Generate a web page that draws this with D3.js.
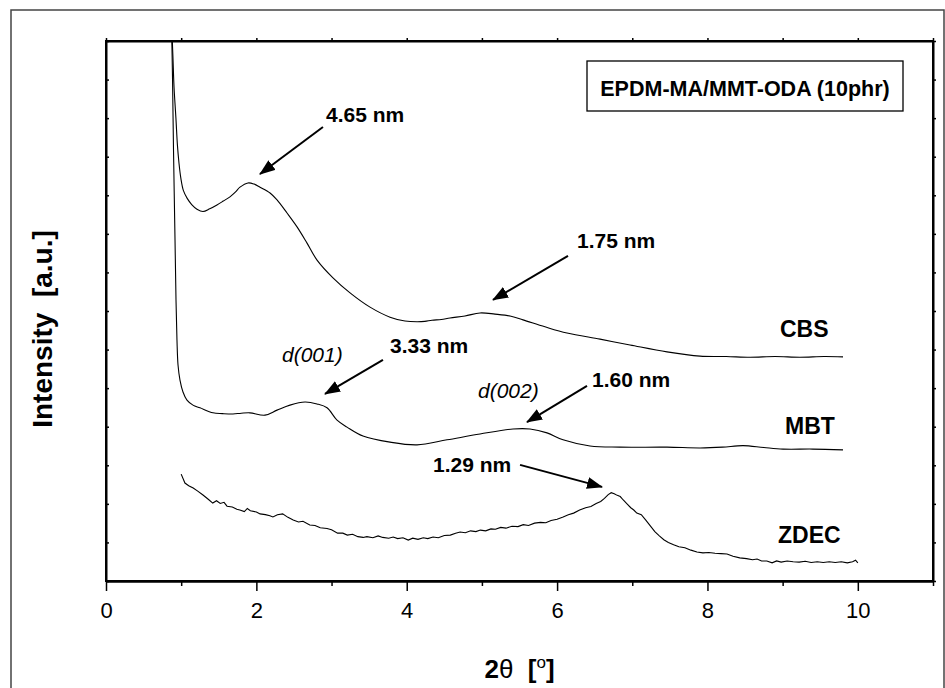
<!DOCTYPE html>
<html>
<head>
<meta charset="utf-8">
<script src="https://cdn.jsdelivr.net/npm/d3@7"></script>
<style>
  body { margin: 0; background: #fff; }
  text { font-family: "Liberation Sans", Arial, sans-serif; fill: #000; }
</style>
</head>
<body>
<svg id="chart" width="945" height="688"></svg>
<script>
// 2theta (deg) vs intensity (a.u., stacked)
const cbs = [[0.87,14.6],[0.89,13.6],[0.905,12.8],[0.93,12.0],[0.95,11.3],[0.97,10.85],[0.995,10.45],[1.03,10.12],[1.08,9.92],[1.14,9.76],[1.21,9.64],[1.29,9.58],[1.38,9.65],[1.476,9.75],[1.56,9.85],[1.649,9.96],[1.72,10.08],[1.782,10.21],[1.889,10.32],[1.97,10.29],[2.049,10.21],[2.182,10.06],[2.275,9.88],[2.408,9.54],[2.541,9.18],[2.674,8.76],[2.807,8.32],[3.019,7.86],[3.246,7.47],[3.512,7.10],[3.778,6.84],[3.977,6.74],[4.137,6.72],[4.24,6.73],[4.336,6.76],[4.46,6.78],[4.576,6.82],[4.775,6.87],[4.975,6.95],[5.174,6.92],[5.374,6.87],[5.547,6.77],[5.839,6.59],[6.132,6.43],[6.571,6.27],[6.970,6.12],[7.462,5.94],[7.901,5.83],[8.25,5.82],[8.566,5.80],[8.9,5.82],[9.231,5.80],[9.55,5.82],[9.803,5.81]];

const mbt = [[0.87,14.6],[0.885,13.0],[0.898,11.17],[0.918,8.84],[0.931,7.29],[0.944,6.25],[0.958,5.60],[0.984,5.21],[1.024,4.90],[1.077,4.69],[1.157,4.56],[1.250,4.49],[1.423,4.36],[1.55,4.34],[1.689,4.33],[1.80,4.35],[1.915,4.36],[2.115,4.30],[2.275,4.43],[2.447,4.56],[2.647,4.64],[2.807,4.59],[2.940,4.49],[3.073,4.17],[3.206,3.99],[3.418,3.76],[3.778,3.60],[4.137,3.53],[4.536,3.66],[4.975,3.81],[5.414,3.94],[5.640,3.94],[5.866,3.84],[6.079,3.66],[6.438,3.50],[6.837,3.47],[7.462,3.47],[7.901,3.45],[8.20,3.47],[8.473,3.51],[8.75,3.46],[9.005,3.42],[9.40,3.42],[9.803,3.40]];

const zdec = [[1.00,2.77],[1.05,2.54],[1.10,2.47],[1.16,2.41],[1.22,2.33],[1.29,2.23],[1.36,2.12],[1.42,2.02],[1.47,2.08],[1.52,2.01],[1.57,2.04],[1.61,1.94],[1.68,1.92],[1.74,1.86],[1.78,1.84],[1.84,1.80],[1.88,1.88],[1.92,1.82],[2.00,1.79],[2.05,1.74],[2.12,1.72],[2.18,1.69],[2.22,1.66],[2.28,1.72],[2.35,1.74],[2.42,1.65],[2.49,1.58],[2.56,1.53],[2.62,1.55],[2.71,1.45],[2.78,1.44],[2.85,1.38],[2.94,1.36],[3.00,1.33],[3.08,1.24],[3.15,1.24],[3.21,1.19],[3.28,1.21],[3.35,1.15],[3.42,1.13],[3.47,1.15],[3.55,1.12],[3.62,1.17],[3.68,1.13],[3.76,1.11],[3.82,1.14],[3.88,1.10],[3.95,1.12],[4.02,1.06],[4.08,1.11],[4.15,1.08],[4.22,1.12],[4.28,1.10],[4.35,1.14],[4.42,1.12],[4.50,1.18],[4.58,1.19],[4.65,1.24],[4.71,1.27],[4.78,1.25],[4.85,1.30],[4.92,1.28],[4.98,1.32],[5.05,1.30],[5.12,1.35],[5.18,1.34],[5.25,1.39],[5.32,1.37],[5.40,1.42],[5.48,1.41],[5.55,1.46],[5.62,1.44],[5.70,1.50],[5.78,1.52],[5.85,1.51],[5.92,1.57],[6.00,1.60],[6.08,1.66],[6.15,1.72],[6.22,1.76],[6.30,1.84],[6.38,1.90],[6.45,1.93],[6.52,2.01],[6.58,2.06],[6.63,2.14],[6.68,2.24],[6.72,2.29],[6.76,2.26],[6.80,2.22],[6.84,2.19],[6.88,2.10],[6.93,2.00],[6.98,1.90],[7.02,1.84],[7.06,1.76],[7.12,1.72],[7.18,1.58],[7.24,1.43],[7.30,1.28],[7.36,1.17],[7.42,1.07],[7.48,1.00],[7.55,0.94],[7.62,0.89],[7.70,0.86],[7.78,0.80],[7.86,0.75],[7.94,0.73],[8.02,0.74],[8.10,0.72],[8.18,0.71],[8.26,0.70],[8.34,0.64],[8.43,0.60],[8.52,0.58],[8.60,0.55],[8.66,0.57],[8.72,0.52],[8.79,0.52],[8.86,0.47],[8.92,0.52],[8.98,0.49],[9.06,0.52],[9.14,0.50],[9.22,0.49],[9.30,0.51],[9.38,0.48],[9.46,0.50],[9.54,0.48],[9.62,0.50],[9.70,0.48],[9.78,0.50],[9.86,0.47],[9.93,0.50],[9.97,0.54],[10.0,0.47]];

const xTicks = [0, 2, 4, 6, 8, 10];
const seriesNames = [
  { name: "CBS", x: 8.965, y: 6.33 },
  { name: "MBT", x: 9.032, y: 3.81 },
  { name: "ZDEC", x: 8.939, y: 0.99 }
];
// arrows: tail -> tip, label position
const notes = [
  { label: "4.65 nm", tx: 2.926, ty: 11.90, x1: 2.886, y1: 11.77, x2: 2.048, y2: 10.55 },
  { label: "1.75 nm", tx: 6.265, ty: 8.63, x1: 6.145, y1: 8.43, x2: 5.148, y2: 7.29 },
  { label: "3.33 nm", tx: 3.778, ty: 5.91, x1: 3.684, y1: 5.73, x2: 2.913, y2: 4.85 },
  { label: "1.60 nm", tx: 6.464, ty: 5.03, x1: 6.398, y1: 5.06, x2: 5.600, y2: 4.12 },
  { label: "1.29 nm", tx: 4.350, ty: 2.83, x1: 5.507, y1: 3.01, x2: 6.598, y2: 2.44 }
];
const reflections = [
  { label: "d(001)", x: 2.341, y: 5.68 },
  { label: "d(002)", x: 4.948, y: 4.74 }
];

var svg = d3.select("#chart");
const pLeft = 106, pRight = 933, pTop = 41, pBottom = 581;

const x = d3.scaleLinear().domain([0, 11]).range([pLeft, pRight]);
const y = d3.scaleLinear().domain([0, 14]).range([pBottom, pTop]);

// outer frame
svg.append("rect")
  .attr("x", 11).attr("y", 10)
  .attr("width", 933).attr("height", 700)
  .attr("fill", "none").attr("stroke", "#444").attr("stroke-width", 1.5);

const defs = svg.append("defs");
defs.append("clipPath").attr("id", "plotClip")
  .append("rect").attr("x", pLeft).attr("y", pTop)
  .attr("width", pRight - pLeft).attr("height", pBottom - pTop);

defs.append("marker")
  .attr("id", "head")
  .attr("markerUnits", "userSpaceOnUse")
  .attr("viewBox", "0 0 16 12")
  .attr("refX", 15).attr("refY", 6)
  .attr("markerWidth", 16).attr("markerHeight", 12)
  .attr("orient", "auto")
  .append("path").attr("d", "M0,0L16,6L0,12Z").attr("fill", "#000");

// axes
const gx = svg.append("g").attr("transform", `translate(0,${pBottom})`)
  .call(d3.axisBottom(x).tickValues(xTicks).tickSize(10).tickSizeOuter(0).tickPadding(11));
svg.append("g").attr("transform", `translate(0,${pBottom})`)
  .call(d3.axisBottom(x).tickValues([1, 3, 5, 7, 9, 11]).tickSize(5).tickSizeOuter(0).tickFormat(""));
svg.append("g").attr("transform", `translate(0,${pTop})`)
  .call(d3.axisTop(x).ticks(11).tickSize(3).tickSizeOuter(0).tickFormat(""));
svg.append("g").attr("transform", `translate(${pLeft},0)`)
  .call(d3.axisRight(y).ticks(14).tickSize(3).tickSizeOuter(0).tickFormat(""));
svg.append("g").attr("transform", `translate(${pRight},0)`)
  .call(d3.axisRight(y).ticks(14).tickSize(3).tickSizeOuter(0).tickFormat(""));

svg.selectAll(".domain").attr("stroke", "#000").attr("stroke-width", 2);
svg.selectAll(".tick line").attr("stroke", "#000").attr("stroke-width", 1.5);
gx.selectAll(".tick text")
  .style("font-family", "'Liberation Sans', Arial, sans-serif")
  .style("font-size", "22px").attr("fill", "#000");

// plot frame
svg.append("rect")
  .attr("x", pLeft).attr("y", pTop)
  .attr("width", pRight - pLeft).attr("height", pBottom - pTop)
  .attr("fill", "none").attr("stroke", "#000").attr("stroke-width", 2);

// axis titles
const xt = svg.append("text")
  .attr("x", (pLeft + pRight) / 2).attr("y", 678)
  .attr("text-anchor", "middle")
  .style("font-size", "26px").style("font-weight", "bold");
xt.append("tspan").text("2");
xt.append("tspan").text("θ").style("font-weight", "normal");
xt.append("tspan").text("\u00a0 [");
xt.append("tspan").text("o").attr("dy", -10).style("font-size", "17px").style("font-weight", "normal");
xt.append("tspan").text("]").attr("dy", 10);

svg.append("text")
  .attr("transform", "translate(52,329) rotate(-90)")
  .attr("text-anchor", "middle")
  .style("font-size", "28px").style("font-weight", "bold")
  .text("Intensity\u00a0 [a.u.]");

// curves
const line = d3.line().x(d => x(d[0])).y(d => y(d[1]));
const plot = svg.append("g").attr("clip-path", "url(#plotClip)");
[cbs, mbt].forEach(s => {
  plot.append("path").datum(s)
    .attr("d", line.curve(d3.curveCatmullRom.alpha(0.5)))
    .attr("fill", "none").attr("stroke", "#000").attr("stroke-width", 1.1);
});
plot.append("path").datum(zdec)
  .attr("d", line.curve(d3.curveLinear))
  .attr("fill", "none").attr("stroke", "#000").attr("stroke-width", 1.1);

// series names
svg.selectAll(".sname").data(seriesNames).join("text")
  .attr("class", "sname")
  .attr("x", d => x(d.x)).attr("y", d => y(d.y))
  .style("font-size", "23px").style("font-weight", "bold")
  .text(d => d.name);

// annotations
svg.selectAll(".arrow").data(notes).join("line")
  .attr("class", "arrow")
  .attr("x1", d => x(d.x1)).attr("y1", d => y(d.y1))
  .attr("x2", d => x(d.x2)).attr("y2", d => y(d.y2))
  .attr("stroke", "#000").attr("stroke-width", 2)
  .attr("marker-end", "url(#head)");
svg.selectAll(".note").data(notes).join("text")
  .attr("class", "note")
  .attr("x", d => x(d.tx)).attr("y", d => y(d.ty))
  .style("font-size", "21px").style("font-weight", "bold")
  .text(d => d.label);
svg.selectAll(".refl").data(reflections).join("text")
  .attr("class", "refl")
  .attr("x", d => x(d.x)).attr("y", d => y(d.y))
  .style("font-size", "21px").style("font-style", "italic")
  .text(d => d.label);

// title box
svg.append("rect")
  .attr("x", 587).attr("y", 61).attr("width", 316).attr("height", 50)
  .attr("fill", "#fff").attr("stroke", "#000").attr("stroke-width", 1.3);
svg.append("text")
  .attr("x", 745).attr("y", 96).attr("text-anchor", "middle")
  .style("font-size", "21.5px").style("font-weight", "bold")
  .text("EPDM-MA/MMT-ODA (10phr)");
</script>
</body>
</html>
